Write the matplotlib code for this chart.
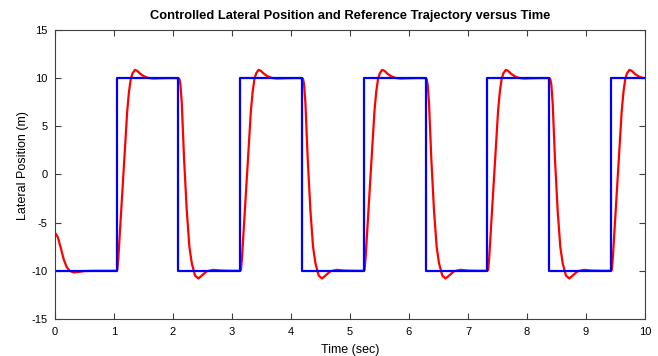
import matplotlib
import numpy as np

matplotlib.use("Agg")
import matplotlib.pyplot as plt

# switching instants of the reference trajectory (sec) and its levels (m)
switch_times = [1.047, 2.094, 3.142, 4.189, 5.236, 6.283, 7.330, 8.378, 9.425]
ref_levels = [-10, 10, -10, 10, -10, 10, -10, 10, -10, 10]
t_end = 10.0

# initial transient of the controlled position
start_t = [0.0, 0.05, 0.10, 0.15, 0.20, 0.25, 0.32, 0.40, 0.50, 0.65]
start_y = [-6.0, -6.5, -7.6, -8.8, -9.6, -10.0, -10.17, -10.12, -10.03, -10.0]

# response after an upward switch (time since switch, position)
rise_dt = [0.0, 0.012, 0.03, 0.06, 0.10, 0.14, 0.18, 0.21, 0.24, 0.27,
           0.31, 0.35, 0.40, 0.46, 0.53, 0.62, 0.75, 0.90]
rise_y = [-10.0, -9.9, -8.6, -5.6, -1.5, 2.6, 6.6, 8.6, 9.9, 10.5,
          10.85, 10.75, 10.45, 10.2, 10.02, 9.95, 9.98, 10.0]

# response after a downward switch
fall_dt = [0.0, 0.017, 0.035, 0.057, 0.096, 0.141, 0.186, 0.226, 0.282,
           0.339, 0.395, 0.48, 0.59, 0.705, 0.90]
fall_y = [10.0, 9.9, 9.3, 7.4, 1.6, -3.7, -7.5, -9.2, -10.5,
          -10.8, -10.5, -10.05, -9.9, -9.97, -10.0]


def main() -> None:
    # controlled position assembled from the transients
    pos_t = list(start_t)
    pos_y = list(start_y)
    for i, ts in enumerate(switch_times):
        going_up = ref_levels[i + 1] > ref_levels[i]
        dts, ys = (rise_dt, rise_y) if going_up else (fall_dt, fall_y)
        for dt, y in zip(dts, ys):
            if ts + dt <= t_end:
                pos_t.append(ts + dt)
                pos_y.append(y)

    ref_t = [0.0] + switch_times + [t_end]
    ref_y = ref_levels + [ref_levels[-1]]

    plt.rcParams["font.family"] = ["Liberation Sans", "DejaVu Sans"]
    plt.rcParams["axes.unicode_minus"] = False

    fig = plt.figure(figsize=(6.58, 3.56), dpi=100)
    ax = fig.add_axes([0.0833, 0.104, 0.897, 0.812])

    ax.plot(pos_t, pos_y, color="#ff0000", linewidth=1.6)
    ax.step(ref_t, ref_y, where="post", color="#0000ff", linewidth=1.6)

    ax.set_xlim(0, 10)
    ax.set_ylim(-15, 15)
    ax.set_xticks(np.arange(0, 11, 1))
    ax.set_yticks(np.arange(-15, 16, 5))
    ax.tick_params(direction="in", top=True, right=True, length=4,
                   width=0.8, color="#404040", labelsize=8, pad=5)
    ax.tick_params(axis="x", pad=6)
    for sp in ax.spines.values():
        sp.set_color("#404040")
        sp.set_linewidth(0.8)

    ax.set_xlabel("Time (sec)", fontsize=9, labelpad=5)
    ax.set_ylabel("Lateral Position (m)", fontsize=9)
    ax.yaxis.set_label_coords(-0.044, 0.53)
    ax.set_title("Controlled Lateral Position and Reference Trajectory versus Time",
                 fontsize=9.3, fontweight="bold", pad=8)

    fig.savefig("out.png", dpi=100)
    plt.close(fig)


if __name__ == "__main__":
    main()
